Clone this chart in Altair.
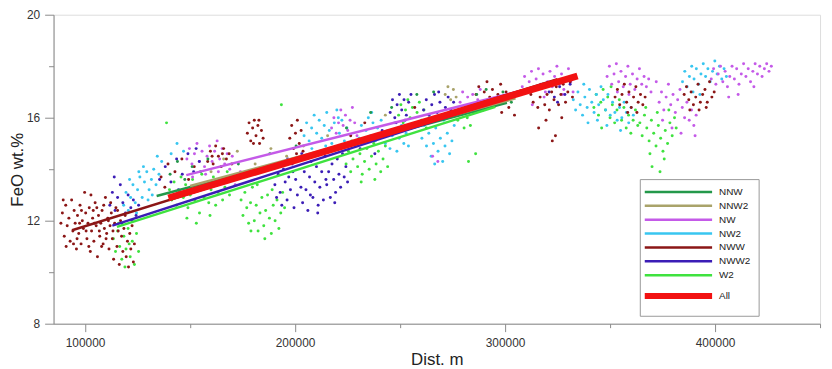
import altair as alt
import pandas as pd

SERIES = ["NNW", "NNW2", "NW", "NW2", "NWW", "NWW2", "W2", "All"]
COLORS = ["#23984a", "#a9a36a", "#c45ae8", "#38c6f0", "#8b1616", "#3b1db6", "#3fe23f", "#f21212"]

# scatter points, distance in km, FeO wt.%
NWW_PTS = [(88.5,11.9),(89.2,12.3),(90.1,11.4),(90.8,12.6),(91.5,11.8),(92.3,12.1),(92.9,11.2),(93.6,12.8),(94.2,11.6),(94.8,12.4),
           (95.3,11.9),(95.9,10.9),(96.4,12.2),(97.0,11.5),(97.6,12.6),(98.1,11.1),(98.7,12.0),(99.2,11.7),(99.8,13.1),(100.3,12.3),
           (100.9,11.3),(101.4,11.9),(102.0,12.5),(102.5,10.8),(103.1,11.6),(103.6,12.1),(104.2,11.2),(104.8,12.7),(105.3,11.8),(105.9,10.6),
           (106.4,12.2),(107.0,11.4),(107.5,11.9),(108.1,12.4),(108.6,11.1),(109.2,11.7),(109.7,12.9),(110.3,11.5),(110.8,12.1),(111.4,10.9),
           (111.9,11.8),(112.5,12.3),(113.0,11.3),(113.6,10.5),(114.1,11.9),(114.7,12.5),(115.2,11.0),(115.8,11.6),(116.3,10.3),(116.9,12.0),
           (117.4,11.4),(118.0,10.8),(118.5,11.7),(119.1,12.2),(119.6,10.6),(120.2,11.2),(120.7,10.2),(121.3,11.5),(121.8,10.9),(122.4,11.8),
           (123.0,10.4),(123.5,11.1),(96.2,11.3),(98.3,12.4),(101.8,11.0),(103.9,12.4),(106.8,11.6),(108.9,12.6),(111.1,12.0),(113.3,11.6),
           (97.4,11.9),(100.5,11.6),(104.5,11.9),(107.9,11.0),(110.0,11.3),(112.2,12.7),(94.5,11.1),(91.0,11.0),(89.6,12.8),(102.8,13.0),
           (105.6,12.5),(115.5,12.4),
           (136.2,13.7),(139.5,14.2),(142.8,13.9),(146.1,14.4),(149.3,13.6),(152.0,14.1),(138.0,13.3),
           (158.4,14.3),(159.7,14.7),(161.0,14.2),(162.2,14.9),(163.5,14.5),(164.8,14.1),(166.0,14.8),(167.3,14.4),(168.6,14.6),(169.9,14.2),
           (160.5,14.5),(165.4,14.6),
           (177.3,15.4),(178.1,15.8),(178.9,15.1),(179.8,15.6),(180.6,15.9),(181.4,15.3),(182.3,15.7),(183.1,15.0),(184.0,15.5),(184.8,15.2),
           (180.2,15.0),(182.8,15.9),
           (197.5,15.2),(198.4,15.7),(199.3,14.8),(200.2,15.4),(201.1,15.9),(202.0,15.0),(202.9,15.5),(203.8,14.7),(200.7,14.6),
           (226.5,15.3),(233.2,15.8),(257.0,16.4),
           (286.2,16.9),(287.5,17.2),(288.8,16.6),(290.1,17.0),(291.4,17.4),(292.7,16.8),(294.0,17.1),(295.3,16.5),(296.6,16.9),(297.9,17.3),
           (299.2,16.7),(300.5,17.0),(301.8,16.4),(303.1,16.8),(293.2,16.5),(298.4,16.2),(304.5,16.1),(289.5,16.3),
           (312.3,16.9),(313.4,16.6),(314.5,17.1),(315.6,16.4),(316.7,16.8),(317.8,17.3),(318.9,16.5),(320.0,16.9),(321.1,16.3),(322.2,17.0),
           (323.3,16.7),(324.4,17.2),(325.5,16.5),(326.6,16.9),(327.7,17.3),(328.8,16.6),(329.9,17.0),(331.0,17.4),(332.1,16.8),(316.0,15.6),
           (319.5,15.9),(324.0,15.3),(327.0,16.0),(322.5,15.1),
           (352.4,16.8),(353.5,17.1),(354.6,16.5),(355.7,16.9),(356.8,17.3),(357.9,16.6),(359.0,17.0),(360.1,16.4),(361.2,16.8),(362.3,17.2),
           (363.4,16.6),(364.5,16.9),(365.6,16.5),(366.7,16.8),(358.4,16.2),(362.8,16.2),
           (385.3,16.9),(386.4,17.2),(387.5,16.7),(388.6,17.0),(389.7,16.5),(390.8,16.8),(391.9,17.3),(393.0,16.6),(394.1,16.9),(395.2,17.1),
           (396.3,16.6),(397.4,17.4),(398.5,16.8),(399.6,17.0),(392.4,16.3),(395.8,16.4),(388.0,16.3)]

NWW2_PTS = [(111.8,12.6),(113.0,13.1),(114.3,12.4),(115.5,12.9),(116.8,13.4),(118.0,12.7),(119.3,12.3),(120.5,13.0),(121.8,12.5),(123.0,12.8),
            (124.3,12.2),(125.5,12.6),(113.9,13.7),(117.5,11.9),(122.4,12.0),
            (135.5,13.6),(138.2,14.1),(140.9,13.5),(143.6,14.4),(146.3,13.8),(149.0,14.6),(151.7,13.9),(154.4,14.3),(144.5,13.2),(152.9,14.8),
            (190.4,13.4),(191.2,12.9),(192.0,13.8),(192.9,13.1),(193.7,12.6),(194.5,14.0),(195.3,13.5),(196.2,12.8),(197.0,13.7),(197.8,13.2),
            (198.6,14.2),(199.5,12.5),(200.3,13.6),(201.1,13.0),(201.9,14.4),(202.8,13.3),(203.6,12.7),(204.4,13.9),(205.2,13.2),(206.1,12.4),
            (206.9,13.7),(207.7,14.3),(208.5,12.9),(209.4,13.5),(210.2,14.1),(211.0,12.6),(211.8,13.3),(212.7,13.9),(213.5,12.8),(214.3,14.5),
            (215.1,13.4),(216.0,13.9),(216.8,12.9),(217.6,14.2),(218.4,13.6),(219.3,13.1),(220.1,14.4),(220.9,13.8),(221.7,13.3),(222.6,14.6),
            (223.4,13.7),(224.2,14.1),(225.0,13.5),(199.0,13.9),(207.3,13.0),(214.7,13.6),(203.2,14.6),(196.5,14.4),(210.8,12.3),(218.9,12.7),
            (231.0,14.8),(234.5,15.2),(238.0,14.6),(241.5,15.5),
            (245.3,16.2),(246.4,16.7),(247.5,16.0),(248.6,16.5),(249.7,16.9),(250.8,16.3),(251.9,16.7),(253.0,16.1),(254.1,16.6),(255.2,16.9),
            (248.1,15.8),(252.4,15.9),
            (261.2,16.3),(262.5,16.7),(263.8,16.1),(265.1,16.5),(266.4,16.9),(267.7,16.2),(269.0,16.6),(270.3,16.0),(271.6,16.4),(272.9,16.8),
            (274.2,16.3),(275.5,16.6),(276.8,16.1),(268.4,17.0),(264.2,15.8),
            (321.0,17.0),(323.5,16.8),(326.0,17.2),(328.5,16.9),(331.0,17.3),(325.0,16.6)]

NW2_PTS = [(118.4,12.6),(119.5,13.1),(120.6,12.4),(121.7,12.9),(122.8,13.4),(123.9,12.7),(125.0,13.2),(126.1,13.7),(127.2,12.9),(128.3,13.5),
           (129.4,13.9),(130.5,13.2),(131.6,13.6),(132.7,14.0),(133.8,13.4),(124.5,12.3),(127.8,14.1),(130.0,12.8),(135.2,13.8),(136.5,14.3),
           (121.2,13.6),(125.6,13.9),(132.0,13.0),(134.4,14.5),(141.0,14.6),(143.8,15.0),(146.9,14.7),
           (204.3,15.3),(205.5,15.8),(206.7,15.1),(207.9,15.6),(209.1,16.1),(210.3,15.4),(211.5,15.9),(212.7,15.2),(213.9,15.7),(215.1,16.2),
           (216.3,15.5),(217.5,15.0),(218.7,15.8),(219.9,16.3),(221.1,15.4),(222.3,15.9),(223.5,15.1),(224.7,15.6),(208.0,14.8),(214.6,14.9),
           (220.6,16.0),
           (230.5,15.2),(231.6,15.7),(232.7,15.0),(233.8,15.5),(234.9,16.0),(236.0,15.3),(237.1,15.8),(238.2,15.1),(239.3,15.6),(243.0,15.0),
           (244.1,15.5),(245.2,14.8),(246.3,15.3),(247.4,15.8),(248.5,14.7),(249.6,15.2),(250.7,15.7),(251.8,15.0),(252.9,15.4),(254.0,14.9),
           (241.0,15.9),(236.5,16.2),
           (260.4,15.2),(261.5,15.7),(262.6,14.9),(263.7,15.4),(264.8,14.5),(265.9,15.0),(267.0,15.6),(268.1,14.7),(269.2,15.2),(270.3,14.3),
           (271.4,14.9),(272.5,15.4),(273.6,14.6),(274.7,15.1),(275.8,15.7),(266.5,14.2),(270.8,15.9),(264.0,16.0),
           (332.5,16.7),(333.6,16.3),(334.7,17.0),(335.8,16.5),(336.9,16.1),(338.0,16.8),(339.1,16.4),(340.2,17.1),(341.3,16.6),(342.4,16.2),
           (343.5,16.9),(344.6,16.5),(345.7,17.2),(346.8,16.7),(347.9,16.3),(349.0,16.9),(350.1,16.1),(351.2,16.6),(352.3,16.2),(353.4,15.9),
           (354.5,16.4),(355.6,16.0),(356.7,16.6),(357.8,16.2),(358.9,15.8),(360.0,16.4),(361.1,16.1),(337.5,17.3),(344.0,15.9),(348.5,15.7),
           (355.0,15.5),(339.5,15.8),
           (384.5,17.4),(385.6,17.8),(386.7,17.2),(387.8,17.6),(388.9,18.0),(390.0,17.5),(391.1,17.9),(392.2,17.3),(393.3,17.7),(394.4,18.1),
           (395.5,17.6),(396.6,17.9),(397.7,17.4),(398.8,17.8),(399.9,18.2),(401.0,17.7),(402.1,18.0),(403.2,17.5),(404.3,17.9),(405.4,17.6),
           (392.8,16.9),(389.5,17.0)]

NW_PTS = [(148.5,14.4),(149.7,14.8),(150.9,14.2),(152.1,14.6),(153.3,15.0),(154.5,14.3),(155.7,14.7),(156.9,14.1),(158.1,14.5),(159.3,14.9),
          (160.5,14.3),(161.7,14.7),(162.9,15.1),(164.1,14.4),(165.3,14.8),(166.5,14.2),(167.7,14.6),(168.9,14.0),(170.1,14.5),(157.4,13.8),
          (163.5,13.9),(151.2,13.7),(171.5,13.4),(174.0,13.9),
          (217.4,15.6),(218.5,16.0),(219.6,15.4),(220.7,15.8),(221.8,16.3),(222.9,15.7),(224.0,16.1),(225.1,15.5),(226.2,15.9),(227.3,16.4),
          (228.4,15.8),(229.5,15.3),(265.5,14.5),(268.0,14.3),
          (278.6,16.6),(279.8,17.0),(281.0,16.4),(282.2,16.8),(283.4,16.5),(284.6,16.9),(285.8,16.3),(287.0,16.7),(288.2,17.1),(289.4,16.6),
          (308.2,17.2),(309.3,17.6),(310.4,17.0),(311.5,17.4),(312.6,17.8),(313.7,17.1),(314.8,17.5),(315.9,17.9),(317.0,17.3),(318.1,17.7),
          (319.2,17.0),(320.3,17.4),(321.4,17.8),(322.5,17.2),(323.6,17.6),(324.7,18.0),(325.8,17.3),(326.9,17.7),(328.0,17.1),(329.1,17.5),
          (330.2,17.9),(331.3,17.4),(332.4,17.0),(333.5,17.6),(318.6,16.8),(313.0,16.5),(327.4,16.9),
          (348.6,17.6),(349.7,18.0),(350.8,17.3),(351.9,17.7),(353.0,18.1),(354.1,17.4),(355.2,17.8),(356.3,17.2),(357.4,17.6),(358.5,18.0),
          (359.6,17.3),(360.7,17.7),(361.8,17.1),(362.9,17.5),(364.0,17.9),(365.1,17.3),(366.2,17.6),(367.3,17.2),(368.4,17.5),(369.5,17.0),
          (353.5,17.0),(359.0,16.9),
          (373.4,16.6),(374.5,17.0),(375.6,16.3),(376.7,16.8),(377.8,17.3),(378.9,16.5),(380.0,16.9),(381.1,16.2),(382.2,16.7),(383.3,17.1),
          (384.4,16.4),(385.5,16.0),(386.6,16.6),(387.7,15.9),(388.8,16.3),(389.9,15.7),(391.0,16.1),(375.0,15.9),(379.5,15.6),(383.8,15.4),
          (390.5,15.3),(372.0,17.4),
          (398.2,17.5),(399.3,17.9),(400.4,17.3),(401.5,17.7),(402.6,18.0),(403.7,17.4),(404.8,17.8),(405.9,17.2),(407.0,17.6),(408.1,18.0),
          (409.2,17.5),(410.3,17.9),(411.4,17.3),(412.5,17.7),(413.6,18.1),(414.7,17.6),(415.8,17.9),(416.9,17.4),(418.0,17.8),(419.1,18.1),
          (420.2,17.7),(421.3,18.0),(422.4,17.6),(423.5,17.9),(424.6,18.1),(425.7,17.8),(426.8,18.0),(411.0,16.9),(406.5,16.8),(418.5,17.2)]

W2_PTS = [(113.5,11.3),(114.5,10.8),(115.5,11.6),(116.5,11.0),(117.5,10.5),(118.5,11.4),(119.5,10.9),(120.5,11.7),(121.5,10.6),(122.5,11.2),
          (123.5,10.3),(124.5,11.5),(116.0,11.9),(119.0,10.2),(121.0,11.1),(125.5,10.8),
          (140.2,13.2),(141.3,12.8),(142.4,13.5),(143.5,12.6),(144.6,13.1),(145.7,13.7),(146.8,12.9),(147.9,13.4),(149.0,12.5),(150.1,13.0),
          (151.2,13.6),(152.3,12.8),(153.4,13.3),(154.5,12.3),(155.6,13.8),(156.7,12.9),(157.8,13.4),(158.9,12.7),(160.0,13.2),(161.1,13.7),
          (162.2,12.6),(163.3,13.1),(164.4,13.5),(165.5,12.8),(166.6,13.3),(167.7,13.9),(168.8,13.0),(148.5,12.1),(153.0,11.9),(159.5,12.2),
          (138.8,15.8),
          (174.3,12.8),(175.2,12.2),(176.1,13.1),(177.0,12.5),(177.9,11.9),(178.8,12.7),(179.7,13.3),(180.6,12.0),(181.5,12.6),(182.4,11.6),
          (183.3,12.3),(184.2,12.9),(185.1,11.8),(186.0,12.4),(186.9,13.0),(187.8,12.1),(188.7,11.5),(189.6,12.6),(190.5,12.0),(191.4,12.8),
          (192.3,11.7),(193.2,12.3),(194.1,13.1),(195.0,12.5),(182.0,13.4),(185.6,11.3),(179.0,11.6),(189.1,13.2),(193.5,16.5),
          (224.3,14.2),(225.4,14.7),(226.5,13.9),(227.6,14.4),(228.7,14.9),(229.8,14.1),(230.9,14.6),(232.0,13.8),(233.1,14.3),(234.2,14.8),
          (235.3,14.0),(236.4,14.5),(237.5,15.0),(238.6,14.2),(239.7,14.7),(240.8,13.9),(241.9,14.4),(243.0,14.9),(244.1,14.1),(231.5,13.5),
          (238.0,13.6),(227.0,15.1),
          (249.3,16.1),(250.4,16.5),(251.5,15.8),(252.6,16.3),(253.7,16.7),(254.8,16.0),(255.9,16.4),(257.0,15.7),(258.1,16.2),(259.2,16.6),
          (260.3,15.9),(261.4,16.3),(262.5,15.6),
          (277.5,15.9),(279.0,16.3),(280.5,15.6),(282.0,16.0),(283.5,15.7),(285.0,16.2),(282.6,14.3),(286.0,14.6),
          (342.3,16.4),(343.4,16.9),(344.5,16.1),(345.6,16.6),(346.7,17.1),(347.8,16.3),(348.9,16.8),(350.0,16.0),(351.1,16.5),(352.2,15.8),
          (353.3,16.3),(354.4,16.7),(355.5,15.9),(356.6,16.4),(357.7,15.6),(358.8,16.1),(359.9,15.4),(361.0,15.9),(362.1,16.3),(363.2,15.7),
          (346.0,15.6),(350.5,17.2),
          (364.2,15.8),(365.3,15.3),(366.4,16.1),(367.5,15.6),(368.6,15.1),(369.7,15.9),(370.8,15.4),(371.9,14.9),(373.0,15.7),(374.1,15.2),
          (375.2,14.7),(376.3,15.5),(377.4,15.0),(378.5,15.8),(379.6,15.3),(380.7,16.0),(367.0,16.4),(372.5,16.2),(375.8,14.4),(369.0,14.6),
          (378.0,16.3),(381.5,15.6),(370.0,14.1),(373.8,13.9)]

NNW_PTS = [(140.5,13.8),(144.0,14.3),(147.5,13.6),(151.0,14.1),(155.0,13.9),(158.5,14.4),(173.0,14.2),(188.0,14.6),(200.5,14.9),(246.0,16.4),
           (258.0,16.9),(266.0,17.0),(286.5,16.9),(291.0,17.1),(295.5,16.7),(299.0,17.0),(303.0,16.6),(224.5,15.6),(236.0,16.2)]

NNW2_PTS = [(160.0,13.9),(166.0,14.4),(172.5,14.7),(181.0,14.2),(188.5,14.8),(196.0,14.5),(204.0,14.9),(271.5,16.9),(272.8,17.2),(274.1,16.7),
            (275.4,17.1),(276.7,16.8),(215.5,15.3),(243.0,16.1)]

# fitted lines: start / end, distance in km
LINE_X0 = [134.1, 150.0, 148.2, 142.0, 93.8, 113.0, 115.2, 139.7]
LINE_Y0 = [12.96, 13.35, 13.77, 13.00, 11.63, 11.81, 11.76, 12.88]
LINE_X1 = [300.9, 305.0, 326.0, 330.0, 325.0, 334.1, 295.4, 334.5]
LINE_Y1 = [16.58, 16.75, 17.42, 17.45, 17.50, 17.65, 16.42, 17.62]

X_TICKS = [100000, 150000, 200000, 250000, 300000, 350000, 400000, 450000]
Y_TICKS = [8, 10, 12, 14, 16, 18, 20]

PTS = {"W2": W2_PTS, "NW2": NW2_PTS, "NW": NW_PTS, "NWW2": NWW2_PTS,
       "NWW": NWW_PTS, "NNW2": NNW2_PTS, "NNW": NNW_PTS}

pt_rows = []
for s, pts in PTS.items():
    for (xk, y) in pts:
        pt_rows.append({"series": s, "dist": xk * 1000, "feo": y})
pts_df = pd.DataFrame(pt_rows)

line_rows = []
for i, s in enumerate(SERIES):
    line_rows.append({"series": s, "dist": LINE_X0[i] * 1000, "feo": LINE_Y0[i]})
    line_rows.append({"series": s, "dist": LINE_X1[i] * 1000, "feo": LINE_Y1[i]})
lines_df = pd.DataFrame(line_rows)

FONT = "Liberation Sans"

xscale = alt.Scale(domain=[85000, 450000], nice=False, zero=False)
yscale = alt.Scale(domain=[8, 20], nice=False, zero=False)
cscale = alt.Scale(domain=SERIES, range=COLORS)
fscale = alt.Scale(domain=SERIES[:-1], range=COLORS[:-1])

xaxis = alt.Axis(values=X_TICKS, format="d", title="Dist. m", grid=False,
                 labelExpr="datum.value % 100000 === 0 ? datum.label : ''",
                 tickSize={"condition": {"test": "datum.value % 100000 === 0", "value": 8}, "value": 4},
                 domainColor="#8a8a8a", tickColor="#8a8a8a", labelColor="#333333",
                 labelFont=FONT, labelFontSize=12, labelPadding=6,
                 titleFont=FONT, titleFontSize=17, titleFontWeight="normal", titleColor="#222222",
                 titlePadding=3, labelFlush=False, labelOverlap=False)
yaxis = alt.Axis(values=Y_TICKS, title="FeO wt.%", grid=False,
                 labelExpr="datum.value % 4 === 0 ? datum.label : ''",
                 tickSize={"condition": {"test": "datum.value % 4 === 0", "value": 9}, "value": 5},
                 domainColor="#8a8a8a", tickColor="#8a8a8a", labelColor="#333333",
                 labelFont=FONT, labelFontSize=12, labelPadding=5,
                 titleFont=FONT, titleFontSize=17, titleFontWeight="normal", titleColor="#222222",
                 titlePadding=0, labelFlush=False, labelOverlap=False)

legend = alt.Legend(title=None, orient="none", legendX=592, legendY=166,
                    symbolType="M-34,0L34,0", symbolSize=4, symbolOffset=26,
                    symbolStrokeWidth=alt.ExprRef(expr="datum.value === 'All' ? 6 : 2.5"),
                    rowPadding=4,
                    padding=8, strokeColor="#999999", fillColor="white",
                    labelFont=FONT, labelFontSize=10, labelColor="#222222", labelOffset=36)

points = alt.Chart(pts_df).mark_circle(size=9, opacity=1).encode(
    x=alt.X("dist:Q", scale=xscale, axis=xaxis),
    y=alt.Y("feo:Q", scale=yscale, axis=yaxis),
    fill=alt.Fill("series:N", scale=fscale, legend=None),
)

series_lines = alt.Chart(lines_df[lines_df["series"] != "All"]).mark_line(strokeWidth=2.5).encode(
    x="dist:Q", y="feo:Q",
    color=alt.Color("series:N", scale=cscale, legend=legend),
)

all_line = alt.Chart(lines_df[lines_df["series"] == "All"]).mark_line(strokeWidth=7).encode(
    x="dist:Q", y="feo:Q",
    color=alt.Color("series:N", scale=cscale, legend=legend),
)

chart = alt.layer(points, series_lines, all_line).properties(
    width=774, height=312,
    autosize=alt.AutoSizeParams(type="none"),
    padding={"left": 46, "top": 5, "right": 4, "bottom": 48},
).configure_view(stroke=None).configure(background="white")

chart.save("out.html", embed_options={"renderer": "svg", "actions": False})
